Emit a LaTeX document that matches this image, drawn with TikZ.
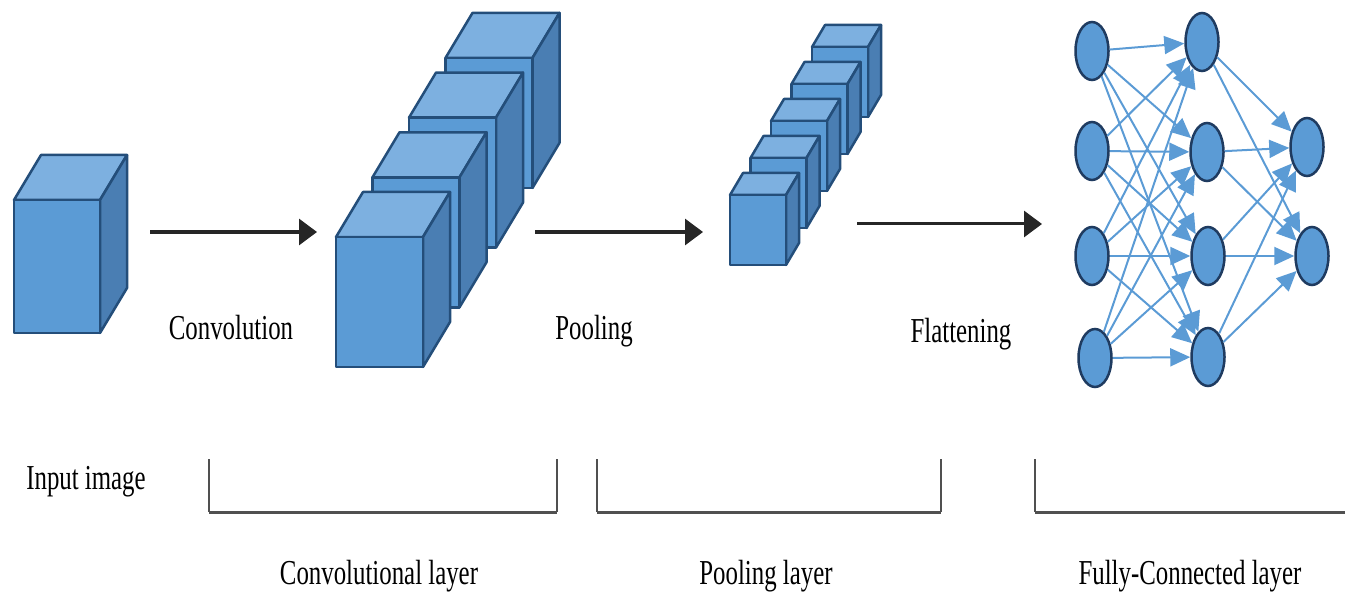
\documentclass[tikz,border=0pt]{standalone}
\usepackage{fontspec}
\setmainfont{Liberation Serif}[FakeStretch=0.71]
\usetikzlibrary{arrows.meta,shapes.geometric}
\definecolor{cfront}{HTML}{5B9BD5}
\definecolor{ctop}{HTML}{7DB0E0}
\definecolor{cside}{HTML}{4A7EB3}
\definecolor{cedge}{HTML}{244E7A}
\definecolor{nnline}{HTML}{5B9BD5}
\definecolor{nnborder}{HTML}{1F3B60}
\definecolor{brk}{HTML}{505050}
\newcommand\mycube[6]{%
  \draw[cubeline,fill=ctop] (#1,#2) -- ++(#5,-#6) -- ++(#3,0) -- (#1+#3,#2) -- cycle;
  \draw[cubeline,fill=cside] (#1+#3,#2) -- ++(#5,-#6) -- ++(0,#4) -- (#1+#3,#2+#4) -- cycle;
  \draw[cubeline,fill=cfront] (#1,#2) rectangle ++(#3,#4);
}
\tikzset{
  cubeline/.style={draw=cedge,line width=2.5pt,line join=round},
  bigarrow/.style={draw=black!85,line width=3pt,-{Triangle[length=18pt,width=26pt]}},
  neuron/.style={ellipse,draw=nnborder,fill=cfront,line width=2.5pt,minimum width=33pt,minimum height=58pt,inner sep=0pt},
  nnarrow/.style={draw=nnline,line width=2pt,-{Triangle[length=20pt,width=18pt]}},
  lbl/.style={font=\fontsize{35}{40}\selectfont,text=black,inner sep=0pt,anchor=base},
  brkside/.style={draw=brk,line width=1.2pt},
  brkbase/.style={draw=brk,line width=3pt},
}
\begin{document}
\begin{tikzpicture}[x=1pt,y=-1pt]
\useasboundingbox (0,0) rectangle (1349,596);
% input cube
\mycube{14}{200}{86}{133}{27}{45}
% convolution cubes
\foreach \i in {3,2,1,0}{
  \pgfmathsetmacro\cx{336+36.5*\i}
  \pgfmathsetmacro\cy{237-59.7*\i}
  \mycube{\cx}{\cy}{87}{130}{27}{45}
}
% pooling cubes
\foreach \i in {4,3,2,1,0}{
  \pgfmathsetmacro\cx{730+20.5*\i}
  \pgfmathsetmacro\cy{195-37*\i}
  \mycube{\cx}{\cy}{56}{70}{13}{22}
}
% big arrows
\coordinate (a1s) at (150,232);
\coordinate (a1e) at (317,232);
\coordinate (a2s) at (535,232);
\coordinate (a2e) at (703,232);
\coordinate (a3s) at (857,224);
\coordinate (a3e) at (1042,224);
\draw[bigarrow] (a1s) -- (a1e);
\draw[bigarrow] (a2s) -- (a2e);
\draw[bigarrow] (a3s) -- (a3e);
% neural network
\node[neuron] (n11) at (1092,51) {};
\node[neuron] (n12) at (1092,151) {};
\node[neuron] (n13) at (1092,256) {};
\node[neuron] (n14) at (1095,358) {};
\node[neuron] (n21) at (1202,42) {};
\node[neuron] (n22) at (1207,152) {};
\node[neuron] (n23) at (1208,256) {};
\node[neuron] (n24) at (1208,357) {};
\node[neuron] (n31) at (1307,147) {};
\node[neuron] (n32) at (1312,256) {};
\foreach \i in {1,2,3,4}{
  \foreach \j in {1,2,3,4}{
    \draw[nnarrow] (n1\i) -- (n2\j);
  }
  \foreach \j in {1,2}{
    \draw[nnarrow] (n2\i) -- (n3\j);
  }
}
% labels
\node[lbl] (tconv) at (231,339) {Convolution};
\node[lbl] (tpool) at (594,339) {Pooling};
\node[lbl] (tflat) at (961,342) {Flattening};
\node[lbl] (tin) at (86,489) {Input image};
\node[lbl] (tcl) at (379,584) {Convolutional layer};
\node[lbl] (tpl) at (766,584) {Pooling layer};
\node[lbl] (tfc) at (1190,584) {Fully-Connected layer};
% brackets
\coordinate (b1a) at (209,459); \coordinate (b1b) at (209,512);
\coordinate (b1c) at (557,512); \coordinate (b1d) at (557,459);
\coordinate (b2a) at (597,459); \coordinate (b2b) at (597,512);
\coordinate (b2c) at (941,512); \coordinate (b2d) at (941,459);
\coordinate (b3a) at (1035,459); \coordinate (b3b) at (1035,512);
\coordinate (b3c) at (1345,512);
\draw[brkside] (b1a) -- (b1b) (b1c) -- (b1d);
\draw[brkbase] (b1b) -- (b1c);
\draw[brkside] (b2a) -- (b2b) (b2c) -- (b2d);
\draw[brkbase] (b2b) -- (b2c);
\draw[brkside] (b3a) -- (b3b);
\draw[brkbase] (b3b) -- (b3c);
\end{tikzpicture}
\end{document}
